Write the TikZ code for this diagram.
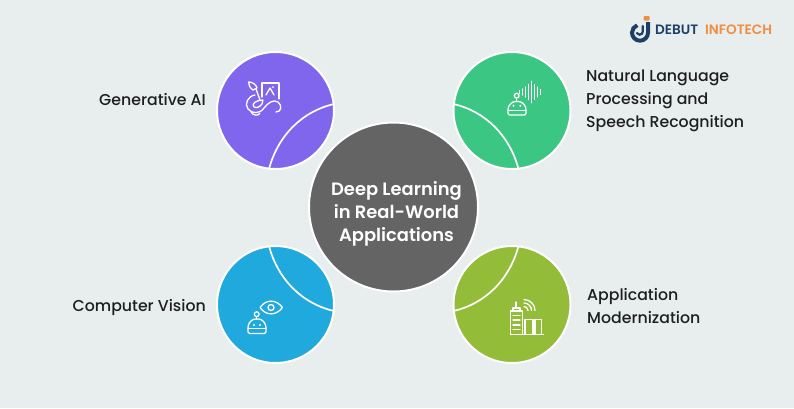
\documentclass[tikz,border=0pt]{standalone}
\usepackage{fontspec}
\setmainfont{Poppins}
\newfontfamily\medfont{Poppins Medium}
\newfontfamily\semifont{Poppins SemiBold}
\definecolor{bgc}{HTML}{E8EEEE}
\definecolor{purplec}{HTML}{7F66EC}
\definecolor{greenc}{HTML}{3CC684}
\definecolor{bluec}{HTML}{1FA9DC}
\definecolor{limec}{HTML}{93BC39}
\definecolor{greyc}{HTML}{646464}
\definecolor{logob}{HTML}{1F3F69}
\definecolor{logoo}{HTML}{F28C3F}
\definecolor{txt}{HTML}{1E1E1E}
\tikzset{
  disc/.style={circle,draw=white,line width=2pt,minimum size=117pt,inner sep=0pt,fill=#1},
  split/.style={draw=white,line width=1.7pt},
  ico/.style={draw=white,line width=1.3pt,line cap=round,line join=round},
  lab/.style={font=\medfont\fontsize{15.75}{23}\selectfont,text=txt,inner sep=0pt,align=left},
  logotext/.style={font=\semifont\fontsize{13.6}{14}\selectfont,anchor=west,inner sep=0pt}
}
\begin{document}
\begin{tikzpicture}[x=1pt,y=-1pt]
\path[use as bounding box,fill=bgc] (0,0) rectangle (794,408);
\node[disc=purplec] (gen) at (275.5,110.5) {};
\node[disc=greenc] (nlp) at (512,110.5) {};
\node[disc=bluec] (cv) at (275.5,304.5) {};
\node[disc=limec] (app) at (512,304.5) {};
\draw[split] (269,169) .. controls (278,135) and (303,111) .. (334,104);
\draw[split] (518.5,169) .. controls (509.5,135) and (484.5,111) .. (453.5,104);
\draw[split] (269,246) .. controls (278,280) and (303,304) .. (334,311);
\draw[split] (518.5,246) .. controls (509.5,280) and (484.5,304) .. (453.5,311);
\node[circle,draw=white,line width=2pt,fill=greyc,minimum size=169pt,inner sep=0pt] (core) at (393.5,207) {};
\node[font=\semifont\fontsize{17.9}{23}\selectfont,text=white,align=center,inner sep=0pt] (title) at (396.5,213.7) {Deep Learning\\in Real-World\\Applications};
\node[lab,anchor=east] (lgen) at (206,100) {Generative AI};
\node[lab,anchor=west] (lnlp) at (586,101.3) {Natural Language\\Processing and\\Speech Recognition};
\node[lab,anchor=east] (lcv) at (206,307) {Computer Vision};
\node[lab,anchor=west] (lapp) at (587,305.7) {Application\\Modernization};
% generative icon
\draw[ico] (262,97) -- (262,83) -- (279,83) -- (279,99);
\draw[ico] (266,95) -- (270,88) -- (274,95);
\fill[white] (273,87) circle (1);
\draw[ico] (256,89) -- (260,100);
\draw[ico] (248.5,82) .. controls (252,82) and (256,84) .. (257,88) -- (253,90) .. controls (250,88) and (248.5,85) .. (248.5,82) -- cycle;
\draw[ico] (255,95) .. controls (248,96) and (244,104) .. (248,109) .. controls (252,114) and (260,114) .. (264,108) .. controls (268,103) and (273,99) .. (278,102) .. controls (282,105) and (282,112) .. (276,112);
\draw[ico] (263,100) .. controls (256,100) and (251,104) .. (254,107) .. controls (257,109) and (263,106) .. (263,100);
\draw[ico] (251,112) .. controls (253,116) and (259,116) .. (260,113);
% nlp icon
\draw[ico] (516.7,95.7) circle (2.4);
\draw[ico] (516.7,98.1) -- (516.7,101.5);
\draw[ico,rounded corners=1.5pt] (508,115) -- (508,109) .. controls (509,104.5) and (512.5,101.5) .. (517,101.5) .. controls (521.5,101.5) and (525,104.5) .. (526,109) -- (526,115) -- cycle;
\draw[ico] (508,110.8) -- (526,110.8);
\fill[white] (513.5,105.8) circle (1.1) (520.3,105.8) circle (1.1);
\foreach \xx/\hh in {519.5/1.5,522.5/3,525.5/5,528.5/7.5,531.5/10.7,534.5/7.5,537.5/5,540.5/2.5}{\draw[ico] (\xx,92-\hh) -- (\xx,92+\hh);}
% cv icon
\draw[ico] (260,307.5) .. controls (266,299) and (276,299) .. (282.5,307.5) .. controls (276,316) and (266,316) .. (260,307.5) -- cycle;
\draw[ico] (271,307.5) circle (3);
\draw[ico] (256.7,314.2) circle (2.4);
\draw[ico] (256.7,316.6) -- (256.7,319);
\draw[ico,rounded corners=1.5pt] (248,333.5) -- (248,327) .. controls (249,322) and (252.5,319) .. (257,319) .. controls (261.5,319) and (265,322) .. (266,327) -- (266,333.5) -- cycle;
\draw[ico] (248,328.5) -- (266,328.5);
\fill[white] (254,325) circle (1.1) (260,325) circle (1.1);
% app icon
\draw[ico] (510.5,334.5) -- (543.5,334.5);
\draw[ico] (510.5,334.5) -- (510.5,311) -- (522.5,311) -- (522.5,334.5);
\draw[ico] (513,311) -- (513,308) -- (520,308) -- (520,311);
\draw[ico] (516,308) -- (516,302);
\draw[ico] (513,315.5) -- (520,315.5) (513,320) -- (520,320) (513,325) -- (520,325) (513,329.5) -- (520,329.5);
\draw[ico] (525,334.5) -- (525,319.5) -- (533,319.5) -- (533,334.5);
\draw[ico] (535,334.5) -- (535,319.5) -- (541.8,319.5) -- (541.8,334.5);
\draw[ico] (524,306.5) .. controls (526.2,306.5) and (528,308.3) .. (528,310.5);
\draw[ico] (524,303) .. controls (528.1,303) and (531.5,306.4) .. (531.5,310.5);
\draw[ico] (524,299.5) .. controls (530,299.5) and (535,304.5) .. (535,310.5);
% logo
\draw[logob,line width=4pt,line cap=butt] (648,22) -- (648,32.7) arc (0:-250:8pt);
\draw[logob,line width=2.2pt,line cap=round] (642.8,26) -- (642.8,31.5) arc (0:-150:3.2pt);
\fill[logoo,rounded corners=1pt] (643.5,16) rectangle (649.5,20.5);
\node[logotext,text=logob] (ld) at (655,30) {DEBUT};
\node[logotext,text=logoo] (li) at (705,30) {INFOTECH};
\end{tikzpicture}
\end{document}
